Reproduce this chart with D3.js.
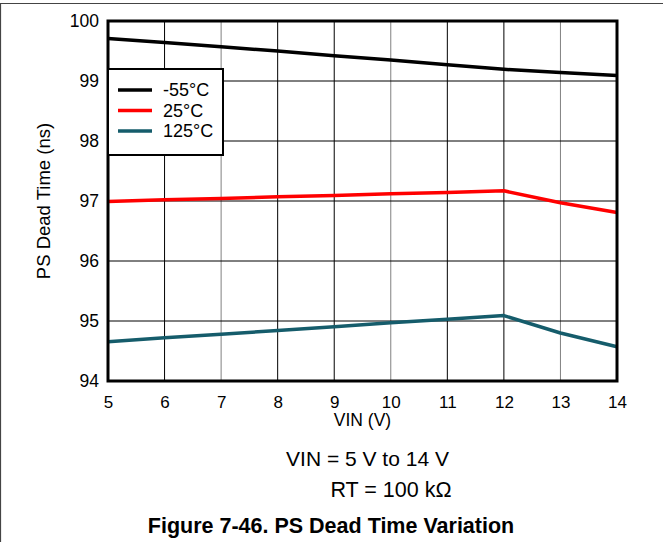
<!DOCTYPE html>
<html><head><meta charset="utf-8">
<script src="https://cdn.jsdelivr.net/npm/d3@7"></script>
<style>body{margin:0;background:#fff}svg{display:block;font-family:"Liberation Sans",Arial,sans-serif}</style>
</head><body><svg id="c" width="663" height="542"></svg>
<script>
const vin = [5,6,7,8,9,10,11,12,13,14];
const seriesNames = ["-55°C","25°C","125°C"];
const seriesColors = ["#000000","#ff0000","#155c6b"];
const tMinus55 = [99.71,99.64,99.57,99.50,99.42,99.35,99.27,99.195,99.14,99.09];
const t25 = [96.99,97.02,97.04,97.07,97.09,97.12,97.14,97.17,96.97,96.81];
const t125 = [94.655,94.72,94.78,94.84,94.905,94.97,95.03,95.09,94.80,94.57];
const xTicks = [5,6,7,8,9,10,11,12,13,14];
const yTicks = [94,95,96,97,98,99,100];

const series = [tMinus55,t25,t125];
const svg = d3.select("#c");
const L=108,R=617,T=21,B=381;
const FF = "Liberation Sans, Arial, sans-serif";
const x = d3.scaleLinear().domain([5,14]).range([L,R]);
const y = d3.scaleLinear().domain([94,100]).range([B,T]);

// outer frame
svg.append("line").attr("x1",0).attr("x2",663).attr("y1",3.5).attr("y2",3.5).attr("stroke","#444").attr("stroke-width",1.2);
svg.append("line").attr("x1",0.5).attr("x2",0.5).attr("y1",3).attr("y2",542).attr("stroke","#444").attr("stroke-width",1.2);

// grid
const g = svg.append("g");
xTicks.forEach(t=>{ if(t>5&&t<14) g.append("line").attr("x1",x(t)).attr("x2",x(t)).attr("y1",T).attr("y2",B)
  .attr("stroke",(t===7||t===10||t===13)?"#808080":"#000").attr("stroke-width",1);});
yTicks.forEach(t=>{ if(t>94&&t<100) g.append("line").attr("x1",L).attr("x2",R).attr("y1",y(t)).attr("y2",y(t)).attr("stroke","#000").attr("stroke-width",1);});

// axes labels via d3 axes
const xa = svg.append("g").attr("transform",`translate(0,${B})`).call(d3.axisBottom(x).tickValues(xTicks).tickSize(0).tickPadding(0).tickFormat(d3.format("d")));
xa.select(".domain").remove();
xa.selectAll("text").attr("dy",null).attr("y",27).attr("font-size",17).attr("fill","#000").attr("font-family",FF);
const ya = svg.append("g").attr("transform",`translate(${L},0)`).call(d3.axisLeft(y).tickValues(yTicks).tickSize(0).tickPadding(9).tickFormat(d3.format("d")));
ya.select(".domain").remove();
ya.selectAll("text").attr("font-size",17.5).attr("fill","#000").attr("font-family",FF);

// lines
const line = d3.line().x((d,i)=>x(vin[i])).y(d=>y(d));
series.forEach((s,k)=>{
  svg.append("path").attr("d",line(s)).attr("fill","none").attr("stroke",seriesColors[k]).attr("stroke-width",3.5).attr("stroke-linejoin","round");
});

// plot border
svg.append("rect").attr("x",L).attr("y",T).attr("width",R-L).attr("height",B-T).attr("fill","none").attr("stroke","#000").attr("stroke-width",3);

// legend
const lg = svg.append("g");
lg.append("rect").attr("x",L).attr("y",69).attr("width",223-L).attr("height",86).attr("fill","#fff").attr("stroke","#000").attr("stroke-width",2);
seriesNames.forEach((n,i)=>{
  const cy = 90+i*20.5;
  lg.append("line").attr("x1",118).attr("x2",152).attr("y1",cy).attr("y2",cy).attr("stroke",seriesColors[i]).attr("stroke-width",3.5);
  lg.append("text").attr("x",163).attr("y",cy+6).attr("font-size",18).text(n);
});

// titles
svg.append("text").attr("x",362.5).attr("y",426).attr("text-anchor","middle").attr("font-size",17.5).text("VIN (V)");
svg.append("text").attr("transform","translate(50,201) rotate(-90)").attr("text-anchor","middle").attr("font-size",18.5).text("PS Dead Time (ns)");

svg.append("text").attr("x",367.5).attr("y",466).attr("text-anchor","middle").attr("font-size",21).text("VIN = 5 V to 14 V");
svg.append("text").attr("x",391).attr("y",497).attr("text-anchor","middle").attr("font-size",21.5).text("RT = 100 kΩ");
svg.append("text").attr("x",331).attr("y",533).attr("text-anchor","middle").attr("font-size",21.5).attr("font-weight","bold").text("Figure 7-46. PS Dead Time Variation");
</script></body></html>
